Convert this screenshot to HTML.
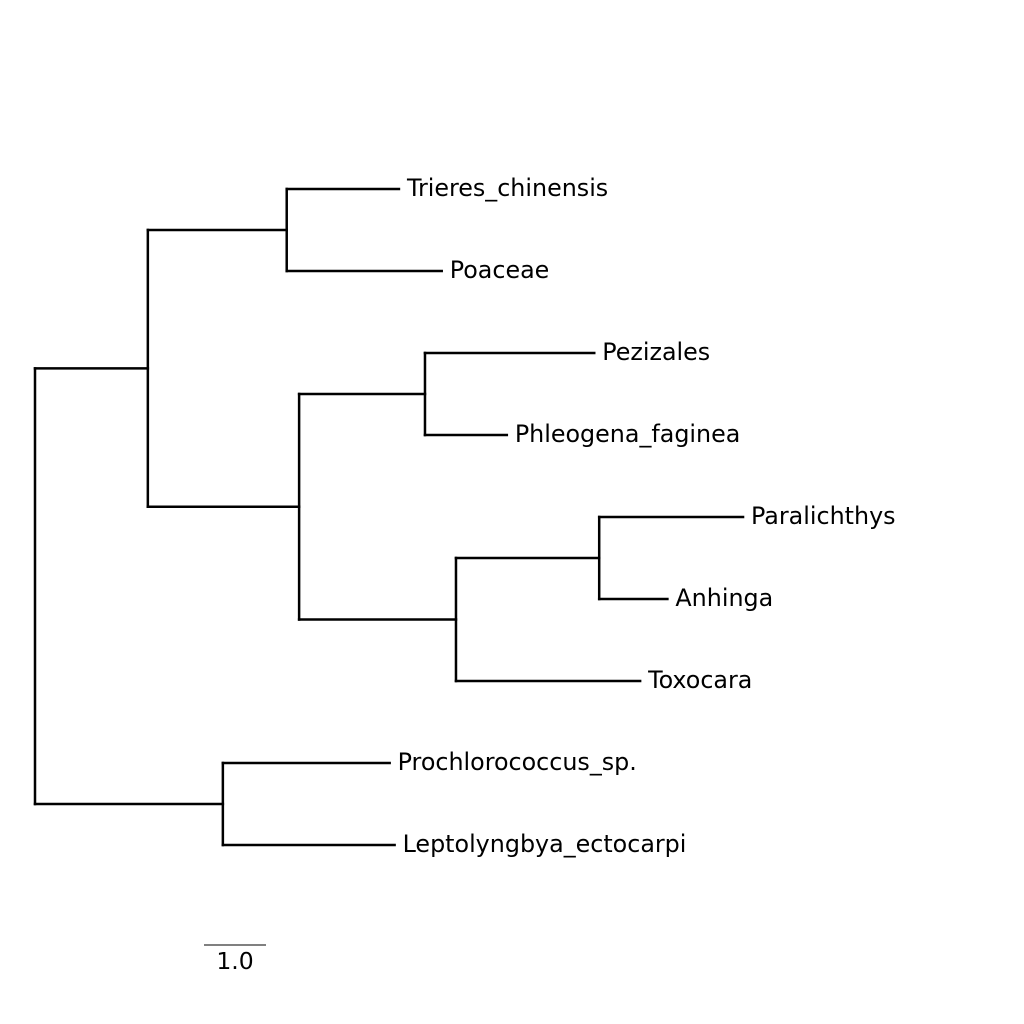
<!DOCTYPE html>
<html><head><meta charset="utf-8">
<style>html,body{margin:0;padding:0;background:#fff;}svg{display:block;}</style>
</head><body>
<svg id="chart" width="1024" height="1024" viewBox="0 0 1024 1024" xmlns="http://www.w3.org/2000/svg">
<g id="branches"></g>
<g id="labels"></g>
<g>
<line id="scaleLine" stroke="#000" stroke-width="1"/>
<text id="scaleText" text-anchor="middle" font-family="DejaVu Sans, sans-serif" font-size="23.5" fill="#000">1.0</text>
</g>
</svg>
<script>
// Tree data: leaf names and branch lengths (units of the scale bar)
const leafNames = ["Trieres_chinensis","Poaceae","Pezizales","Phleogena_faginea","Paralichthys","Anhinga","Toxocara","Prochlorococcus_sp.","Leptolyngbya_ectocarpi"];
const leafLengths = [1.81, 2.50, 2.73, 1.32, 2.32, 1.10, 2.97, 2.69, 2.77];
const internalLengths = {A:1.82, B:3.03, C:2.24, D:2.44, E:2.03, F:2.53, G:2.31};
const scaleValue = 1.0;

const X0 = 35, UNIT = 62, Y0 = 189, DY = 82;
const xs = v => X0 + v * UNIT;
const ys = i => Y0 + i * DY;

const tree = {name:"root", len:0, children:[
  {name:"A", len:internalLengths.A, children:[
    {name:"C", len:internalLengths.C, children:[{leaf:0},{leaf:1}]},
    {name:"D", len:internalLengths.D, children:[
      {name:"E", len:internalLengths.E, children:[{leaf:2},{leaf:3}]},
      {name:"F", len:internalLengths.F, children:[
        {name:"G", len:internalLengths.G, children:[{leaf:4},{leaf:5}]},
        {leaf:6}]}]}]},
  {name:"B", len:internalLengths.B, children:[{leaf:7},{leaf:8}]}]};

const NS = "http://www.w3.org/2000/svg";
const gB = document.getElementById("branches");
const gL = document.getElementById("labels");
function line(x1,y1,x2,y2,name){
  const l = document.createElementNS(NS,"line");
  l.setAttribute("x1",x1);l.setAttribute("y1",y1);l.setAttribute("x2",x2);l.setAttribute("y2",y2);
  l.setAttribute("stroke","#000");l.setAttribute("stroke-width","2.5");l.setAttribute("stroke-linecap","square");
  
  
  gB.appendChild(l);
}
function layout(node, depth){
  if(node.leaf !== undefined){
    const d = depth + leafLengths[node.leaf];
    node.y = ys(node.leaf); node.x = xs(d);
    return node;
  }
  const d = depth + node.len;
  node.x = xs(d);
  const kids = node.children.map(c => layout(c, d));
  node.y = kids.reduce((s,c)=>s+c.y,0)/kids.length;
  return node;
}
layout(tree, 0);
function draw(node, parentX){
  if(parentX !== null) line(parentX, node.y, node.x, node.y, "branch-" + (node.leaf!==undefined ? leafNames[node.leaf].toLowerCase().replace(/[^a-z]+/g,'-') : node.name.toLowerCase()));
  if(node.children){
    const ysK = node.children.map(c=>c.y);
    line(node.x, Math.min(...ysK), node.x, Math.max(...ysK), "clade-connector-" + node.name.toLowerCase());
    node.children.forEach(c=>draw(c, node.x));
  } else {
    const t = document.createElementNS(NS,"text");
    t.setAttribute("x", node.x + 8); t.setAttribute("y", node.y + 7);
    t.setAttribute("font-family","DejaVu Sans, sans-serif");
    t.setAttribute("font-size","23.8"); t.setAttribute("fill","#000");
    t.setAttribute("transform", "translate(" + (node.x + 8) + " 0) scale(1 1.03) translate(" + (-(node.x + 8)) + " 0)");
    t.removeAttribute("transform");
    t.textContent = leafNames[node.leaf];
    
    
    gL.appendChild(t);
  }
}
draw(tree, null);
const sl = document.getElementById("scaleLine");
sl.setAttribute("x1",204); sl.setAttribute("x2",204+scaleValue*UNIT); sl.setAttribute("y1",945); sl.setAttribute("y2",945);
const st = document.getElementById("scaleText");
st.setAttribute("x",204+scaleValue*UNIT/2); st.setAttribute("y",969);
st.textContent = scaleValue.toFixed(1);
</script>
</body></html>
